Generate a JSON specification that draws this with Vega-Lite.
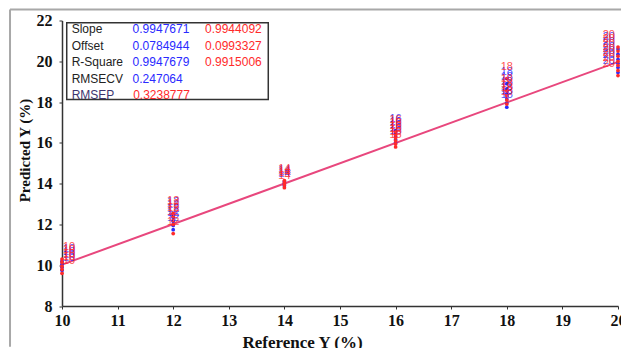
{
  "$schema": "https://vega.github.io/schema/vega-lite/v6.json",
  "width": 556,
  "height": 285.5,
  "autosize": {"type": "none"},
  "padding": {"left": 62, "top": 20.5, "right": 3, "bottom": 42},
  "background": "white",
  "config": {"view": {"stroke": null}, "axis": {"grid": false}},
  "datasets": {
    "samples": [
      {"ref": 10, "pred": 9.75, "set": "Cal"}, {"ref": 10, "pred": 9.9, "set": "Cal"}, {"ref": 10, "pred": 10.05, "set": "Cal"}, {"ref": 10, "pred": 10.2, "set": "Cal"},
      {"ref": 12, "pred": 11.74, "set": "Cal"}, {"ref": 12, "pred": 11.95, "set": "Cal"}, {"ref": 12, "pred": 12.15, "set": "Cal"}, {"ref": 12, "pred": 12.35, "set": "Cal"}, {"ref": 12, "pred": 12.5, "set": "Cal"},
      {"ref": 14, "pred": 13.9, "set": "Cal"}, {"ref": 14, "pred": 14.0, "set": "Cal"}, {"ref": 14, "pred": 14.1, "set": "Cal"},
      {"ref": 16, "pred": 16.0, "set": "Cal"}, {"ref": 16, "pred": 16.15, "set": "Cal"}, {"ref": 16, "pred": 16.3, "set": "Cal"}, {"ref": 16, "pred": 16.45, "set": "Cal"}, {"ref": 16, "pred": 16.6, "set": "Cal"},
      {"ref": 18, "pred": 17.75, "set": "Cal"}, {"ref": 18, "pred": 17.95, "set": "Cal"}, {"ref": 18, "pred": 18.15, "set": "Cal"}, {"ref": 18, "pred": 18.4, "set": "Cal"}, {"ref": 18, "pred": 18.65, "set": "Cal"}, {"ref": 18, "pred": 18.9, "set": "Cal"},
      {"ref": 20, "pred": 19.45, "set": "Cal"}, {"ref": 20, "pred": 19.7, "set": "Cal"}, {"ref": 20, "pred": 19.9, "set": "Cal"}, {"ref": 20, "pred": 20.1, "set": "Cal"}, {"ref": 20, "pred": 20.35, "set": "Cal"}, {"ref": 20, "pred": 20.6, "set": "Cal"},
      {"ref": 10, "pred": 9.6, "set": "Val"}, {"ref": 10, "pred": 9.8, "set": "Val"}, {"ref": 10, "pred": 9.95, "set": "Val"}, {"ref": 10, "pred": 10.15, "set": "Val"}, {"ref": 10, "pred": 10.3, "set": "Val"},
      {"ref": 12, "pred": 11.55, "set": "Val"}, {"ref": 12, "pred": 12.0, "set": "Val"}, {"ref": 12, "pred": 12.2, "set": "Val"}, {"ref": 12, "pred": 12.4, "set": "Val"}, {"ref": 12, "pred": 12.55, "set": "Val"},
      {"ref": 14, "pred": 13.8, "set": "Val"}, {"ref": 14, "pred": 13.95, "set": "Val"}, {"ref": 14, "pred": 14.05, "set": "Val"}, {"ref": 14, "pred": 14.15, "set": "Val"},
      {"ref": 16, "pred": 15.8, "set": "Val"}, {"ref": 16, "pred": 15.95, "set": "Val"}, {"ref": 16, "pred": 16.1, "set": "Val"}, {"ref": 16, "pred": 16.25, "set": "Val"}, {"ref": 16, "pred": 16.4, "set": "Val"}, {"ref": 16, "pred": 16.55, "set": "Val"},
      {"ref": 18, "pred": 17.9, "set": "Val"}, {"ref": 18, "pred": 18.1, "set": "Val"}, {"ref": 18, "pred": 18.3, "set": "Val"}, {"ref": 18, "pred": 18.55, "set": "Val"}, {"ref": 18, "pred": 19.15, "set": "Val"},
      {"ref": 20, "pred": 19.3, "set": "Val"}, {"ref": 20, "pred": 19.55, "set": "Val"}, {"ref": 20, "pred": 19.8, "set": "Val"}, {"ref": 20, "pred": 20.0, "set": "Val"}, {"ref": 20, "pred": 20.25, "set": "Val"}, {"ref": 20, "pred": 20.5, "set": "Val"}, {"ref": 20, "pred": 20.7, "set": "Val"}
    ],
    "fit": [{"ref": 10, "pred": 10.026}, {"ref": 20, "pred": 19.974}],
    "stats": [
      {"stat": "Slope", "cal": "0.9947671", "val": "0.9944092"},
      {"stat": "Offset", "cal": "0.0784944", "val": "0.0993327"},
      {"stat": "R-Square", "cal": "0.9947679", "val": "0.9915006"},
      {"stat": "RMSECV", "cal": "0.247064", "val": null},
      {"stat": "RMSEP", "cal": null, "val": "0.3238777"}
    ]
  },
  "resolve": {"scale": {"y": "independent"}},
  "layer": [
    {
      "layer": [
        {
          "data": {"name": "fit"},
          "mark": {"type": "line", "color": "#e8477d", "strokeWidth": 2},
          "encoding": {
            "x": {
              "field": "ref", "type": "quantitative",
              "scale": {"domain": [10, 20], "nice": false, "zero": false},
              "axis": {
                "title": "Reference Y (%)",
                "values": [10, 10.5, 11, 11.5, 12, 12.5, 13, 13.5, 14, 14.5, 15, 15.5, 16, 16.5, 17, 17.5, 18, 18.5, 19, 19.5, 20],
                "format": ".0f",
                "labelExpr": "datum.value % 1 === 0 ? datum.label : ''",
                "labelFlush": false, "labelOverlap": false,
                "tickSize": 3, "tickColor": "#333", "domainColor": "#333", "domainWidth": 1.5,
                "labelPadding": 3,
                "labelFont": "Liberation Serif", "labelFontWeight": "bold", "labelFontSize": 16, "labelColor": "#111",
                "titleFont": "Liberation Serif", "titleFontWeight": "bold", "titleFontSize": 17, "titleColor": "#111",
                "titleX": 240, "titleY": 41, "titleAlign": "center", "titleBaseline": "alphabetic"
              }
            },
            "y": {
              "field": "pred", "type": "quantitative",
              "scale": {"domain": [8, 22], "nice": false, "zero": false},
              "axis": {
                "title": "Predicted Y (%)",
                "values": [8, 9, 10, 11, 12, 13, 14, 15, 16, 17, 18, 19, 20, 21, 22],
                "format": "d",
                "labelExpr": "datum.value % 2 === 0 ? datum.label : ''",
                "labelOverlap": false,
                "tickSize": 3, "tickColor": "#333", "domainColor": "#333", "domainWidth": 1.5,
                "labelPadding": 7,
                "labelFont": "Liberation Serif", "labelFontWeight": "bold", "labelFontSize": 16, "labelColor": "#111",
                "titleFont": "Liberation Serif", "titleFontWeight": "bold", "titleFontSize": 15, "titleColor": "#111",
                "titleX": -38, "titleY": 129.5, "titleAngle": -90, "titleAlign": "center", "titleBaseline": "middle"
              }
            }
          }
        },
        {
          "data": {"name": "samples"},
          "mark": {"type": "circle", "size": 14, "opacity": 1},
          "encoding": {
            "x": {"field": "ref", "type": "quantitative"},
            "y": {"field": "pred", "type": "quantitative"},
            "color": {"field": "set", "type": "nominal", "scale": {"domain": ["Cal", "Val"], "range": ["#2a2aff", "#ff2a2a"]}, "legend": null}
          }
        },
        {
          "data": {"name": "samples"},
          "transform": [{"filter": "datum.ref > 10 && datum.ref < 20"}],
          "mark": {"type": "text", "font": "Liberation Sans", "fontSize": 11, "dy": -12, "align": "center", "baseline": "middle", "opacity": 0.8},
          "encoding": {
            "x": {"field": "ref", "type": "quantitative"},
            "y": {"field": "pred", "type": "quantitative"},
            "text": {"field": "ref", "type": "quantitative", "format": "d"},
            "color": {"field": "set", "type": "nominal", "legend": null}
          }
        },
        {
          "data": {"name": "samples"},
          "transform": [{"filter": "datum.ref == 10"}],
          "mark": {"type": "text", "font": "Liberation Sans", "fontSize": 11, "dy": -12, "dx": 1, "align": "left", "baseline": "middle", "opacity": 0.8},
          "encoding": {
            "x": {"field": "ref", "type": "quantitative"},
            "y": {"field": "pred", "type": "quantitative"},
            "text": {"field": "ref", "type": "quantitative", "format": "d"},
            "color": {"field": "set", "type": "nominal", "legend": null}
          }
        },
        {
          "data": {"name": "samples"},
          "transform": [{"filter": "datum.ref == 20"}],
          "mark": {"type": "text", "font": "Liberation Sans", "fontSize": 11, "dy": -12, "dx": -3, "align": "right", "baseline": "middle", "opacity": 0.8},
          "encoding": {
            "x": {"field": "ref", "type": "quantitative"},
            "y": {"field": "pred", "type": "quantitative"},
            "text": {"field": "ref", "type": "quantitative", "format": "d"},
            "color": {"field": "set", "type": "nominal", "legend": null}
          }
        },
        {
          "data": {"values": [{}]},
          "mark": {"type": "rect", "fill": "white", "stroke": "#333", "strokeWidth": 1.5},
          "encoding": {
            "x": {"datum": 10.085, "type": "quantitative"},
            "x2": {"datum": 13.71},
            "y": {"datum": 21.89, "type": "quantitative"},
            "y2": {"datum": 18.13}
          }
        },
        {
          "data": {"values": [{}]},
          "mark": {"type": "rule", "color": "#a8a8a8", "strokeWidth": 2},
          "encoding": {
            "x": {"datum": 9.065, "type": "quantitative"},
            "y": {"datum": 22.54, "type": "quantitative"},
            "y2": {"datum": 6.0}
          }
        },
        {
          "data": {"values": [{}]},
          "mark": {"type": "rule", "color": "#a8a8a8", "strokeWidth": 2},
          "encoding": {
            "x": {"datum": 9.065, "type": "quantitative"},
            "x2": {"datum": 20.2},
            "y": {"datum": 22.54, "type": "quantitative"}
          }
        }
      ]
    },
    {
      "data": {"name": "stats"},
      "encoding": {
        "y": {"field": "stat", "type": "ordinal", "scale": {"type": "point", "domain": ["Slope", "Offset", "R-Square", "RMSECV", "RMSEP"], "range": [8.7, 74.5], "padding": 0}, "axis": null}
      },
      "layer": [
        {
          "mark": {"type": "text", "font": "Liberation Sans", "fontSize": 12, "align": "left", "baseline": "middle"},
          "encoding": {
            "x": {"datum": 10.174, "type": "quantitative"},
            "text": {"field": "stat"},
            "color": {"condition": {"test": "datum.stat === 'RMSEP'", "value": "#3d3570"}, "value": "#222"}
          }
        },
        {
          "transform": [{"filter": "datum.cal != null"}],
          "mark": {"type": "text", "font": "Liberation Sans", "fontSize": 12, "align": "left", "baseline": "middle", "color": "#2a2aff"},
          "encoding": {
            "x": {"datum": 11.27, "type": "quantitative"},
            "text": {"field": "cal"}
          }
        },
        {
          "transform": [{"filter": "datum.cal != null && datum.val != null"}],
          "mark": {"type": "text", "font": "Liberation Sans", "fontSize": 12, "align": "left", "baseline": "middle", "color": "#ff2a2a"},
          "encoding": {
            "x": {"datum": 12.572, "type": "quantitative"},
            "text": {"field": "val"}
          }
        },
        {
          "transform": [{"filter": "datum.cal == null && datum.val != null"}],
          "mark": {"type": "text", "font": "Liberation Sans", "fontSize": 12, "align": "left", "baseline": "middle", "color": "#ff2a2a"},
          "encoding": {
            "x": {"datum": 11.28, "type": "quantitative"},
            "text": {"field": "val"}
          }
        }
      ]
    }
  ]
}
